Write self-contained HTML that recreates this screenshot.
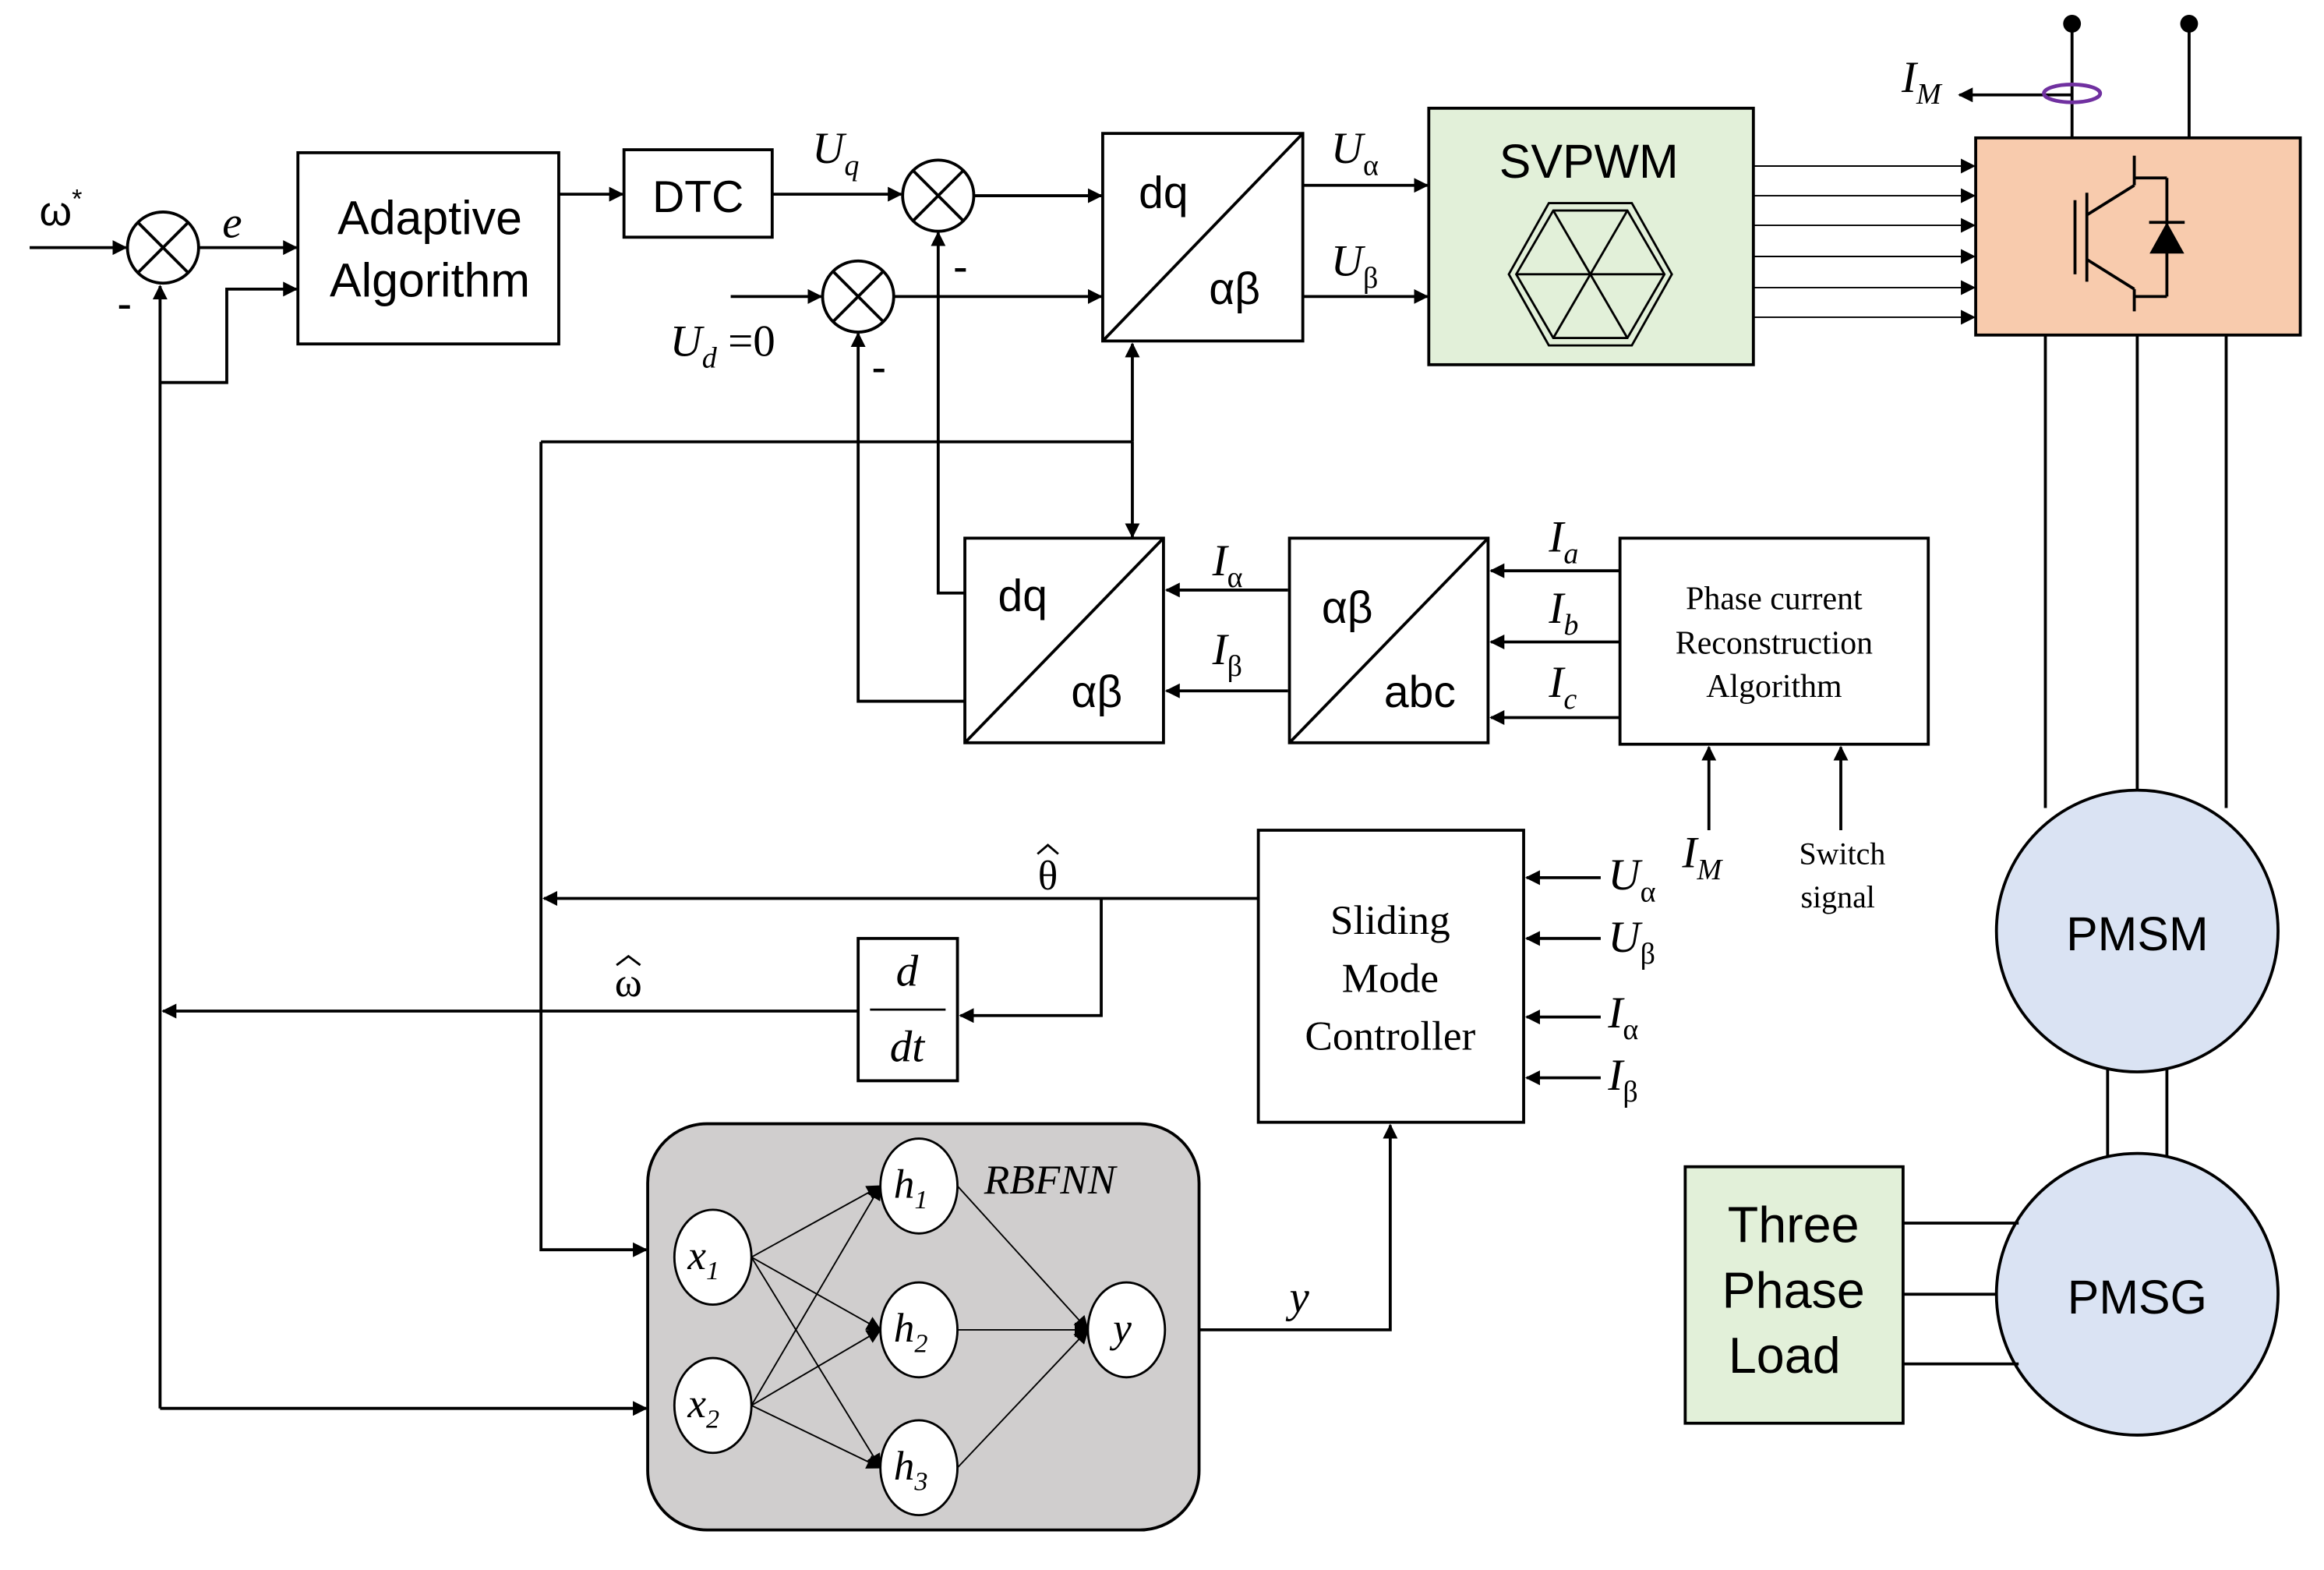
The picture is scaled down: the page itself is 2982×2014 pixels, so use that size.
<!DOCTYPE html>
<html><head><meta charset="utf-8"><style>
html,body{margin:0;padding:0;background:#fff;}
svg{display:block;}
.s{font-family:"Liberation Sans",sans-serif;}
.m{font-family:"Liberation Serif",serif;font-style:italic;}
.r{font-family:"Liberation Serif",serif;}
</style></head><body>
<svg width="2982" height="2014" viewBox="0 0 1568 1059" preserveAspectRatio="none" xmlns="http://www.w3.org/2000/svg">
<defs>
<marker id="a" markerWidth="10" markerHeight="10" refX="9" refY="5" orient="auto" markerUnits="userSpaceOnUse"><path d="M0,0 L10,5 L0,10 z" fill="#000"/></marker>
</defs>
<g stroke="#000" stroke-width="2" fill="none">
<line x1="20" y1="167" x2="85" y2="167" marker-end="url(#a)"/>
<circle cx="110" cy="167" r="24" fill="#fff"/>
<line x1="93" y1="150" x2="127" y2="184"/><line x1="127" y1="150" x2="93" y2="184"/>
<line x1="134" y1="167" x2="200" y2="167" marker-end="url(#a)"/>
<polyline points="108,950 108,193" marker-end="url(#a)"/>
<polyline points="108,258 153,258 153,195 200,195" marker-end="url(#a)"/>
<rect x="201" y="103" width="176" height="129"/>
<line x1="377" y1="131" x2="420" y2="131" marker-end="url(#a)"/>
<rect x="421" y="101" width="100" height="59"/>
<line x1="521" y1="131" x2="608" y2="131" marker-end="url(#a)"/>
<circle cx="633" cy="132" r="24" fill="#fff"/>
<line x1="616" y1="115" x2="650" y2="149"/><line x1="650" y1="115" x2="616" y2="149"/>
<line x1="657" y1="132" x2="743" y2="132" marker-end="url(#a)"/>
<circle cx="579" cy="200" r="24" fill="#fff"/>
<line x1="562" y1="183" x2="596" y2="217"/><line x1="596" y1="183" x2="562" y2="217"/>
<line x1="493" y1="200" x2="554" y2="200" marker-end="url(#a)"/>
<line x1="603" y1="200" x2="743" y2="200" marker-end="url(#a)"/>
<polyline points="651,400 633,400 633,157" marker-end="url(#a)"/>
<polyline points="651,473 579,473 579,225" marker-end="url(#a)"/>
<rect x="744" y="90" width="135" height="140"/>
<line x1="744" y1="230" x2="879" y2="90"/>
<line x1="879" y1="125" x2="963" y2="125" marker-end="url(#a)"/>
<line x1="879" y1="200" x2="963" y2="200" marker-end="url(#a)"/>
<rect x="964" y="73" width="219" height="173" fill="#e2f0d9"/>
<polygon points="1048,142 1098,142 1123,185 1098,228 1048,228 1023,185" stroke-width="1.5"/>
<polygon points="1045,137 1101,137 1128,185 1101,233 1045,233 1018,185" stroke-width="1.5"/>
<line x1="1048" y1="142" x2="1098" y2="228" stroke-width="1.5"/>
<line x1="1098" y1="142" x2="1048" y2="228" stroke-width="1.5"/>
<line x1="1023" y1="185" x2="1123" y2="185" stroke-width="1.5"/>
<g stroke-width="1"><line x1="1183" y1="112" x2="1332" y2="112" marker-end="url(#a)"/>
<line x1="1183" y1="132" x2="1332" y2="132" marker-end="url(#a)"/>
<line x1="1183" y1="152" x2="1332" y2="152" marker-end="url(#a)"/>
<line x1="1183" y1="173" x2="1332" y2="173" marker-end="url(#a)"/>
<line x1="1183" y1="194" x2="1332" y2="194" marker-end="url(#a)"/>
<line x1="1183" y1="214" x2="1332" y2="214" marker-end="url(#a)"/></g>
<rect x="1333" y="93" width="219" height="133" fill="#f8cbad"/>
<line x1="1400" y1="135" x2="1400" y2="185"/>
<line x1="1408" y1="130" x2="1408" y2="190"/>
<line x1="1408" y1="145" x2="1440" y2="125"/><line x1="1440" y1="125" x2="1440" y2="105"/>
<line x1="1408" y1="175" x2="1440" y2="195"/><line x1="1440" y1="195" x2="1440" y2="210"/>
<line x1="1440" y1="120" x2="1462" y2="120"/><line x1="1462" y1="120" x2="1462" y2="200"/><line x1="1462" y1="200" x2="1440" y2="200"/>
<polygon points="1452,170 1472,170 1462,152" fill="#000"/><line x1="1450" y1="150" x2="1474" y2="150"/>
<line x1="1398" y1="16" x2="1398" y2="93"/><line x1="1477" y1="16" x2="1477" y2="93"/>
<line x1="1398" y1="64" x2="1322" y2="64" marker-end="url(#a)"/>
<line x1="1380" y1="226" x2="1380" y2="545"/><line x1="1442" y1="226" x2="1442" y2="533"/><line x1="1502" y1="226" x2="1502" y2="545"/>
<line x1="1422" y1="715" x2="1422" y2="785"/><line x1="1462" y1="715" x2="1462" y2="785"/>
<circle cx="1442" cy="628" r="95" fill="#dae3f3"/>
<circle cx="1442" cy="873" r="95" fill="#dae3f3"/>
<rect x="1137" y="787" width="147" height="173" fill="#e2f0d9"/>
<line x1="1284" y1="825" x2="1362" y2="825"/><line x1="1284" y1="873" x2="1347" y2="873"/><line x1="1284" y1="920" x2="1362" y2="920"/>
<line x1="365" y1="298" x2="764" y2="298"/>
<line x1="764" y1="298" x2="764" y2="232" marker-end="url(#a)"/>
<line x1="764" y1="298" x2="764" y2="362" marker-end="url(#a)"/>
<polyline points="365,298 365,843 436,843" marker-end="url(#a)"/>
<rect x="651" y="363" width="134" height="138"/>
<line x1="651" y1="501" x2="785" y2="363"/>
<line x1="869" y1="398" x2="787" y2="398" marker-end="url(#a)"/>
<line x1="869" y1="466" x2="787" y2="466" marker-end="url(#a)"/>
<rect x="870" y="363" width="134" height="138"/>
<line x1="870" y1="501" x2="1004" y2="363"/>
<line x1="1093" y1="385" x2="1006" y2="385" marker-end="url(#a)"/>
<line x1="1093" y1="433" x2="1006" y2="433" marker-end="url(#a)"/>
<line x1="1093" y1="484" x2="1006" y2="484" marker-end="url(#a)"/>
<rect x="1093" y="363" width="208" height="139"/>
<line x1="1153" y1="560" x2="1153" y2="504" marker-end="url(#a)"/>
<line x1="1242" y1="560" x2="1242" y2="504" marker-end="url(#a)"/>
<rect x="849" y="560" width="179" height="197"/>
<line x1="849" y1="606" x2="367" y2="606" marker-end="url(#a)"/>
<polyline points="743,606 743,685 648,685" marker-end="url(#a)"/>
<rect x="579" y="633" width="67" height="96"/>
<line x1="579" y1="682" x2="110" y2="682" marker-end="url(#a)"/>
<line x1="1080" y1="592" x2="1030" y2="592" marker-end="url(#a)"/>
<line x1="1080" y1="633" x2="1030" y2="633" marker-end="url(#a)"/>
<line x1="1080" y1="686" x2="1030" y2="686" marker-end="url(#a)"/>
<line x1="1080" y1="727" x2="1030" y2="727" marker-end="url(#a)"/>
<rect x="437" y="758" width="372" height="274" rx="40" fill="#d0cece"/>
<line x1="108" y1="950" x2="436" y2="950" marker-end="url(#a)"/>
<polyline points="809,897 938,897 938,759" marker-end="url(#a)"/>
<g stroke-width="1">
<line x1="507" y1="848" x2="594" y2="800" marker-end="url(#a)"/>
<line x1="507" y1="848" x2="594" y2="897" marker-end="url(#a)"/>
<line x1="507" y1="848" x2="594" y2="990" marker-end="url(#a)"/>
<line x1="507" y1="948" x2="594" y2="800" marker-end="url(#a)"/>
<line x1="507" y1="948" x2="594" y2="897" marker-end="url(#a)"/>
<line x1="507" y1="948" x2="594" y2="990" marker-end="url(#a)"/>
<line x1="646" y1="800" x2="734" y2="897" marker-end="url(#a)"/>
<line x1="646" y1="897" x2="734" y2="897" marker-end="url(#a)"/>
<line x1="646" y1="990" x2="734" y2="897" marker-end="url(#a)"/>
</g>
<g fill="#fff" stroke-width="1.5">
<ellipse cx="481" cy="848" rx="26" ry="32"/><ellipse cx="481" cy="948" rx="26" ry="32"/>
<ellipse cx="620" cy="800" rx="26" ry="32"/><ellipse cx="620" cy="897" rx="26" ry="32"/>
<ellipse cx="620" cy="990" rx="26" ry="32"/><ellipse cx="760" cy="897" rx="26" ry="32"/>
</g>
<!-- hats -->
<polyline points="700,576 707,570 714,576" stroke-width="1.5"/>
<polyline points="416,651 424,645 432,651" stroke-width="1.5"/>
</g>
<g fill="#000">
<circle cx="1398" cy="16" r="6"/><circle cx="1477" cy="16" r="6"/>
<ellipse cx="1398" cy="63" rx="19" ry="6" fill="none" stroke="#7030a0" stroke-width="2.5"/>
</g>
<g class="s" font-size="32" text-anchor="middle">
<text x="290" y="158">Adaptive</text><text x="290" y="200">Algorithm</text>
<text x="471" y="143" font-size="30">DTC</text>
<text x="1072" y="120" font-size="32">SVPWM</text>
<text x="785" y="140" font-size="30">dq</text><text x="833" y="205" font-size="30">αβ</text>
<text x="690" y="412" font-size="30">dq</text><text x="740" y="477" font-size="30">αβ</text>
<text x="909" y="420" font-size="30">αβ</text><text x="958" y="477" font-size="30">abc</text>
<text x="1442" y="641" font-size="32">PMSM</text><text x="1442" y="886" font-size="32">PMSG</text>
<text x="1210" y="838" font-size="34">Three</text><text x="1210" y="882" font-size="34">Phase</text><text x="1204" y="926" font-size="34">Load</text>
<text x="41" y="152" font-size="28">ω<tspan font-size="18" dy="-12">*</tspan></text>
<text x="84" y="215" font-size="30">-</text><text x="648" y="190" font-size="30">-</text><text x="593" y="258" font-size="30">-</text>
</g>
<g class="r" text-anchor="middle" font-size="22">
<text x="1197" y="411">Phase current</text><text x="1197" y="441">Reconstruction</text><text x="1197" y="470">Algorithm</text>
<text x="1243" y="583" font-size="21">Switch</text><text x="1240" y="612" font-size="21">signal</text>
<text x="938" y="630" font-size="28">Sliding</text><text x="938" y="669" font-size="28">Mode</text><text x="938" y="708" font-size="28">Controller</text>
<text x="612" y="665" font-size="30" font-style="italic">d</text><line x1="587" y1="681" x2="638" y2="681" stroke="#000" stroke-width="1.5"/><text x="612" y="716" font-size="30" font-style="italic">dt</text>
<text x="707" y="600" font-size="28">θ</text><text x="424" y="672" font-size="28">ω</text>
</g>
<g class="m" font-size="30">
<text x="150" y="160">e</text>
<text x="548" y="110">U<tspan font-size="20" dy="8">q</tspan></text>
<text x="452" y="240">U<tspan font-size="20" dy="8">d</tspan><tspan dy="-8" font-style="normal"> =0</tspan></text>
<text x="898" y="110">U<tspan font-size="20" dy="8" font-style="normal">α</tspan></text>
<text x="898" y="186">U<tspan font-size="20" dy="8" font-style="normal">β</tspan></text>
<text x="1283" y="62">I<tspan font-size="20" dy="8">M</tspan></text>
<text x="818" y="388">I<tspan font-size="20" dy="8" font-style="normal">α</tspan></text>
<text x="818" y="448">I<tspan font-size="20" dy="8" font-style="normal">β</tspan></text>
<text x="1045" y="372">I<tspan font-size="20" dy="8">a</tspan></text>
<text x="1045" y="420">I<tspan font-size="20" dy="8">b</tspan></text>
<text x="1045" y="470">I<tspan font-size="20" dy="8">c</tspan></text>
<text x="1135" y="585">I<tspan font-size="20" dy="8">M</tspan></text>
<text x="1085" y="600">U<tspan font-size="20" dy="8" font-style="normal">α</tspan></text>
<text x="1085" y="642">U<tspan font-size="20" dy="8" font-style="normal">β</tspan></text>
<text x="1085" y="693">I<tspan font-size="20" dy="8" font-style="normal">α</tspan></text>
<text x="1085" y="735">I<tspan font-size="20" dy="8" font-style="normal">β</tspan></text>
<text x="664" y="805" font-size="28">RBFNN</text>
<text x="870" y="885">y</text>
<text x="464" y="856" font-size="28">x<tspan font-size="18" dy="7">1</tspan></text>
<text x="464" y="956" font-size="28">x<tspan font-size="18" dy="7">2</tspan></text>
<text x="603" y="808" font-size="28">h<tspan font-size="18" dy="7">1</tspan></text>
<text x="603" y="905" font-size="28">h<tspan font-size="18" dy="7">2</tspan></text>
<text x="603" y="998" font-size="28">h<tspan font-size="18" dy="7">3</tspan></text>
<text x="751" y="905" font-size="28">y</text>
</g>
</svg>
</body></html>
